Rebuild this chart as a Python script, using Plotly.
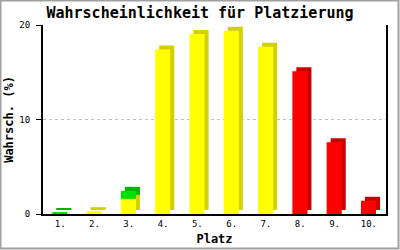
import plotly.graph_objects as go

places = ["1.", "2.", "3.", "4.", "5.", "6.", "7.", "8.", "9.", "10."]
yellow = [None, 0.3, 1.6, 17.4, 19.05, 19.4, 17.7, None, None, None]
green = [0.15, None, 0.85, None, None, None, None, None, None, None]
red = [None, None, None, None, None, None, None, 15.1, 7.6, 1.4]

title = "Wahrscheinlichkeit für Platzierung"
x_title = "Platz"
y_title = "Wahrsch. (%)"

W, H = 400, 250
ML, MR, MT, MB = 43, 14, 25, 36
plot_w = W - ML - MR
plot_h = H - MT - MB
ymax = 20
depth_px = 4
dx = depth_px / (plot_w / len(places))
dy = depth_px / (plot_h / ymax)
bw = 0.44
off = -0.23

green_base = [(y or 0) for y in yellow]

series = [
    (yellow, [0] * len(places), "#ffff00", "#d2d000"),
    (green, green_base, "#00e000", "#00b400"),
    (red, [0] * len(places), "#ff0000", "#cc0000"),
]

fig = go.Figure()
# depth (side/top faces)
for vals, base, front, side in series:
    fig.add_trace(go.Bar(
        x=places, y=vals, base=[b + dy for b in base],
        width=bw, offset=off + dx,
        marker=dict(color=side, line=dict(width=0)),
        showlegend=False, hoverinfo="skip"))
# front faces
for vals, base, front, side in series:
    fig.add_trace(go.Bar(
        x=places, y=vals, base=base,
        width=bw, offset=off,
        marker=dict(color=front, line=dict(width=0)),
        showlegend=False))

mono = "DejaVu Sans Mono"
fig.update_layout(
    width=W, height=H,
    margin=dict(l=ML, r=MR, t=MT, b=MB),
    paper_bgcolor="white", plot_bgcolor="white",
    barmode="overlay",
    title=dict(text=title, x=0.5, xanchor="center", y=1 - 13 / H, yanchor="middle",
               font=dict(family=mono, size=15, color="black", weight="bold")),
    font=dict(family=mono, size=9, color="black"),
    xaxis=dict(
        type="category", showline=True, linecolor="black", linewidth=2,
        ticks="", showgrid=False, tickfont=dict(size=9), automargin=False,
        title=dict(text=x_title, font=dict(size=12, weight="bold"), standoff=7),
    ),
    yaxis=dict(
        range=[0, ymax], tickvals=[0, 10, 20], showline=True, linecolor="black",
        linewidth=2, mirror=True, ticks="outside", ticklen=5, tickcolor="black",
        tickwidth=1, showgrid=True, gridcolor="#c0c0c0", griddash="3px,3px",
        gridwidth=1, zeroline=False, tickfont=dict(size=9), automargin=False,
        ticklabelstandoff=4,
        title=dict(text=y_title, font=dict(size=12, weight="bold"), standoff=3),
    ),
    shapes=[dict(
        type="rect", xref="paper", yref="paper",
        x0=-(ML - 0.5) / plot_w, x1=1 + (MR - 1.5) / plot_w,
        y0=-(MB - 1.5) / plot_h, y1=1 + (MT - 0.5) / plot_h,
        line=dict(color="#a0a0a0", width=2), layer="above")],
)

fig.write_html("out.html")
